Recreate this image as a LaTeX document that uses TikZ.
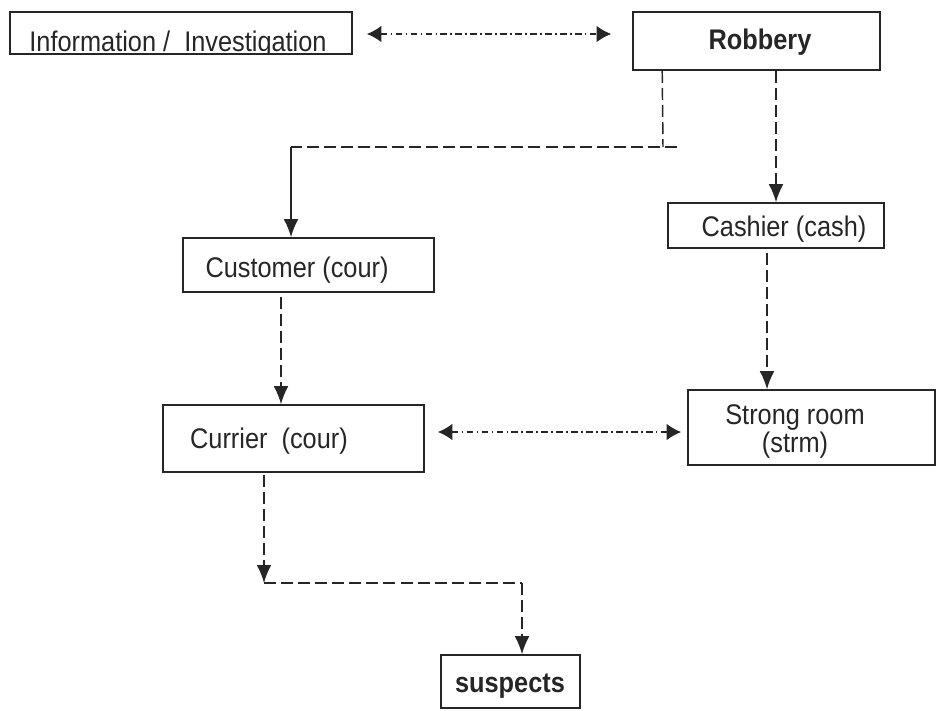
\documentclass[tikz,border=0pt]{standalone}
\usepackage{fontspec}
\usepackage{graphicx}
\setmainfont{Liberation Sans}
\usetikzlibrary{arrows.meta,calc}
\newcommand{\tallt}[1]{\scalebox{1}[1.12]{#1}}
\begin{document}
\begin{tikzpicture}[x=0.75pt,y=-0.75pt,
  box/.style={draw=black!85, line width=1.2pt, inner sep=0pt},
  lbl/.style={font=\fontsize{19}{23}\selectfont, inner sep=0pt, text=black!85},
  blbl/.style={font=\fontsize{19}{23}\selectfont\bfseries, inner sep=0pt, text=black!85},
  link/.style={line width=1.1pt, draw=black!85},
  dsh/.style={link, dash pattern=on 9pt off 3.8pt},
  dd/.style={link, dash pattern=on 5pt off 2.5pt on 1.2pt off 2.5pt},
  tip/.style={-{Latex[length=13.5pt,width=11pt]}},
  both/.style={{Latex[length=11pt,width=12.5pt]}-{Latex[length=11pt,width=12.5pt]}}]
\useasboundingbox (0,0) rectangle (937,710);
\fill[white] (0,0) rectangle (937,710);

% boxes
\node[box, minimum width=256.5pt, minimum height=31.5pt] (info) at (181,33) {};
\node[box, minimum width=185.25pt, minimum height=43.5pt] (rob) at (756.5,41) {};
\node[box, minimum width=162pt, minimum height=33.75pt] (cash) at (776,225.5) {};
\node[box, minimum width=188.25pt, minimum height=40.5pt] (cust) at (308.5,265) {};
\node[box, minimum width=195.75pt, minimum height=50.25pt] (cur) at (293.5,438.5) {};
\node[box, minimum width=185.25pt, minimum height=56.25pt] (str) at (811.5,427.5) {};
\node[box, minimum width=104.25pt, minimum height=39.75pt] (sus) at (510.5,681.5) {};

% labels
\begin{scope}
  \clip (info.south west) rectangle (info.north east);
  \node[lbl, anchor=base] (infot) at (178,52) {\tallt{Information /\ \ Investigation}};
\end{scope}
\node[blbl] (robt) at (760,42) {\tallt{Robbery}};
\node[lbl] (casht) at (784,229) {\tallt{Cashier (cash)}};
\node[lbl] (custt) at (297,270) {\tallt{Customer (cour)}};
\node[lbl] (curt) at (269,441) {\tallt{Currier\ \ (cour)}};
\node[lbl, align=center] (strt) at (795,432) {\tallt{Strong room}\\[-2pt]\tallt{(strm)}};
\node[blbl] (sust) at (510,686) {\tallt{suspects}};

% connectors
\coordinate (ya) at (0,34);
\draw[dd,both] ($(info.east |- ya)+(14,0)$) -- ($(rob.west |- ya)+(-21,0)$);

\coordinate (r1) at ($(rob.south west)+(30,0)$);
\coordinate (j1) at (663,147);
\coordinate (j1e) at (677,147);
\coordinate (j2) at (291,147);
\draw[dsh] (r1) -- (j1);
\draw[dsh] (j1e) -- (j2);
\draw[link,tip] (j2) -- (j2 |- cust.north);

\draw[dsh,tip] (rob.south -| cash.north) -- (cash.north);

\coordinate (c1) at (281,0);
\draw[dsh,tip] ($(cust.south -| c1)+(0,4)$) -- (cur.north -| c1);

\coordinate (c2) at (767,0);
\draw[dsh,tip] ($(cash.south -| c2)+(0,4)$) -- (str.north -| c2);

\coordinate (yb) at (0,432);
\draw[dd,both] ($(cur.east |- yb)+(13,0)$) -- ($(str.west |- yb)+(-6,0)$);

\coordinate (b1) at (264,583);
\coordinate (b2) at (522,583);
\draw[dsh,tip] ($(cur.south -| b1)+(0,2)$) -- (b1);
\draw[dsh] (b1) -- (b2);
\draw[dsh,tip] (b2) -- (sus.north -| b2);
\end{tikzpicture}
\end{document}
